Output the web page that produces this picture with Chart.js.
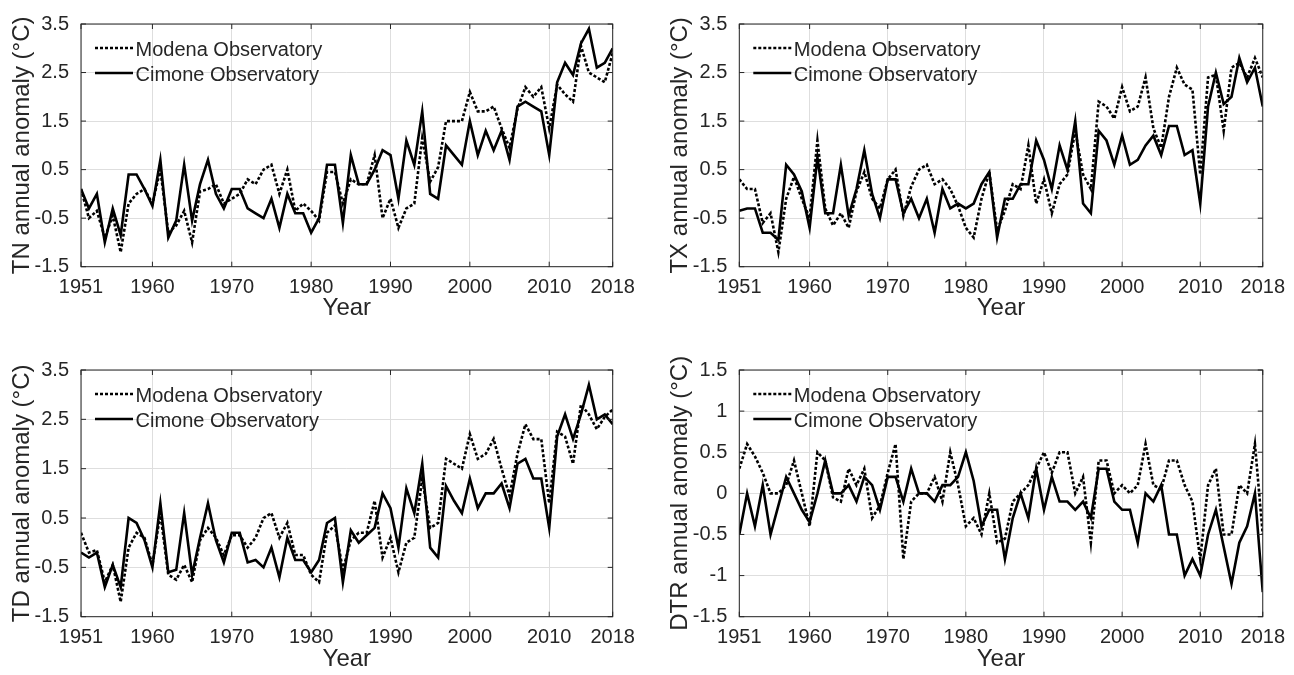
<!DOCTYPE html>
<html><head><meta charset="utf-8">
<script src="https://cdn.jsdelivr.net/npm/chart.js@4.4.1/dist/chart.umd.min.js"></script>
<style>
html,body{margin:0;padding:0;background:#fff;}
#wrap{position:relative;width:1294px;height:675px;overflow:hidden;background:#fff;}
canvas{position:absolute;}
</style></head><body>
<div id="wrap">
<canvas id="cTN" width="647" height="340" style="left:0;top:0"></canvas>
<canvas id="cTX" width="647" height="340" style="left:647px;top:0"></canvas>
<canvas id="cTD" width="647" height="335" style="left:0;top:340px"></canvas>
<canvas id="cDTR" width="647" height="335" style="left:647px;top:340px"></canvas>
</div>
<script>
// ---- data ----
const years = Array.from({length: 68}, (_, i) => 1951 + i);
const xTicks = [1951, 1960, 1970, 1980, 1990, 2000, 2010, 2018];
const yTicksT = [-1.5, -0.5, 0.5, 1.5, 2.5, 3.5];
const yTicksDTR = [-1.5, -1, -0.5, 0, 0.5, 1, 1.5];
const seriesNames = ['Modena Observatory', 'Cimone Observatory'];

const tnModena = [
  0.1,-0.5,-0.35,-0.9,-0.45,-1.2,-0.2,0.0,0.1,-0.2,
  0.5,-0.8,-0.65,-0.35,-1.0,0.05,0.1,0.2,-0.2,-0.1,
  0.0,0.3,0.2,0.5,0.6,0.0,0.5,-0.35,-0.2,-0.35,
  -0.55,0.45,0.45,-0.2,0.3,0.2,0.2,0.8,-0.5,-0.1,
  -0.7,-0.3,-0.2,1.15,0.25,0.55,1.5,1.5,1.5,2.1,
  1.7,1.7,1.8,1.35,0.95,1.75,2.2,2.0,2.2,1.35,
  2.25,2.05,1.9,3.05,2.5,2.4,2.3,2.9];
const tnCimone = [
  0.1,-0.3,0.0,-1.0,-0.3,-0.85,0.4,0.4,0.1,-0.25,
  0.7,-0.9,-0.55,0.6,-0.55,0.2,0.7,0.0,-0.3,0.1,
  0.1,-0.3,-0.4,-0.5,-0.1,-0.7,0.0,-0.4,-0.4,-0.8,
  -0.5,0.6,0.6,-0.6,0.8,0.2,0.2,0.5,0.9,0.8,
  -0.1,1.1,0.6,1.7,0.0,-0.1,1.0,0.8,0.6,1.5,
  0.8,1.3,0.9,1.3,0.7,1.8,1.9,1.8,1.7,0.8,
  2.3,2.7,2.45,3.1,3.4,2.6,2.7,3.0];
const txModena = [
  0.3,0.1,0.1,-0.6,-0.4,-1.2,-0.1,0.35,-0.1,-0.5,
  1.1,-0.3,-0.65,-0.4,-0.7,0.05,0.45,-0.1,-0.3,0.3,
  0.5,-0.45,0.15,0.5,0.6,0.2,0.3,0.1,-0.25,-0.7,
  -0.9,-0.1,0.45,-0.75,-0.35,0.2,0.1,1.0,-0.2,0.3,
  -0.4,0.2,0.4,1.3,0.4,0.1,1.9,1.8,1.55,2.2,
  1.7,1.8,2.4,1.35,0.95,2.0,2.6,2.25,2.15,0.4,
  2.4,2.45,1.3,2.6,2.7,2.4,2.8,2.4];
const txCimone = [
  -0.35,-0.3,-0.3,-0.8,-0.8,-0.95,0.6,0.4,0.05,-0.7,
  0.75,-0.4,-0.4,0.6,-0.45,0.1,0.9,0.0,-0.5,0.3,
  0.3,-0.4,-0.1,-0.5,-0.1,-0.8,0.1,-0.3,-0.2,-0.3,
  -0.2,0.2,0.45,-0.9,-0.1,-0.1,0.2,0.2,1.1,0.7,
  0.1,1.0,0.5,1.5,-0.2,-0.4,1.3,1.1,0.6,1.2,
  0.6,0.7,1.0,1.2,0.8,1.4,1.4,0.8,0.9,-0.2,
  1.8,2.5,1.85,2.0,2.8,2.3,2.6,1.8];
const tdModena = [
  0.2,-0.2,-0.15,-0.8,-0.45,-1.2,-0.1,0.2,0.1,-0.45,
  0.6,-0.65,-0.75,-0.45,-0.8,0.05,0.3,0.1,-0.25,0.15,
  0.15,-0.1,0.1,0.5,0.6,0.1,0.4,-0.25,-0.25,-0.65,
  -0.8,0.2,0.35,-0.55,0.05,0.2,0.2,0.85,-0.3,0.1,
  -0.6,0.0,0.1,1.3,0.3,0.4,1.7,1.6,1.5,2.2,
  1.7,1.8,2.1,1.5,0.95,1.8,2.4,2.1,2.1,0.8,
  2.25,2.15,1.6,2.8,2.6,2.3,2.55,2.7];
const tdCimone = [
  -0.2,-0.3,-0.2,-0.9,-0.45,-0.9,0.5,0.4,0.05,-0.5,
  0.8,-0.6,-0.55,0.6,-0.65,0.1,0.8,0.05,-0.4,0.2,
  0.2,-0.4,-0.35,-0.5,-0.1,-0.7,0.1,-0.35,-0.35,-0.6,
  -0.35,0.4,0.5,-0.8,0.25,0.0,0.15,0.3,1.0,0.7,
  -0.1,1.1,0.6,1.6,-0.1,-0.3,1.15,0.85,0.6,1.3,
  0.7,1.0,1.0,1.2,0.7,1.6,1.7,1.3,1.3,0.3,
  2.15,2.6,2.1,2.6,3.2,2.5,2.6,2.4];
const dtrModena = [
  0.3,0.6,0.45,0.25,0.0,0.0,0.1,0.4,0.0,-0.4,
  0.5,0.4,-0.05,-0.1,0.3,0.1,0.3,-0.3,-0.15,0.25,
  0.6,-0.8,-0.1,0.0,0.0,0.2,-0.1,0.5,0.1,-0.4,
  -0.3,-0.5,0.0,-0.6,-0.55,-0.1,0.0,0.1,0.3,0.5,
  0.25,0.5,0.5,0.0,0.2,-0.6,0.4,0.4,0.0,0.1,
  0.0,0.1,0.6,0.1,0.05,0.4,0.4,0.1,-0.1,-0.8,
  0.1,0.3,-0.5,-0.5,0.1,0.0,0.6,-0.5];
const dtrCimone = [
  -0.5,0.0,-0.4,0.1,-0.5,-0.15,0.2,0.0,-0.2,-0.35,
  0.0,0.4,0.0,0.0,0.1,-0.1,0.2,0.1,-0.2,0.2,
  0.2,-0.1,0.3,0.0,0.0,-0.1,0.1,0.1,0.2,0.5,
  0.15,-0.4,-0.2,-0.2,-0.8,-0.3,0.0,-0.3,0.3,-0.2,
  0.2,-0.1,-0.1,-0.2,-0.1,-0.3,0.3,0.3,-0.1,-0.2,
  -0.2,-0.6,0.0,-0.1,0.1,-0.5,-0.5,-1.0,-0.8,-1.0,
  -0.5,-0.2,-0.65,-1.1,-0.6,-0.4,0.0,-1.2];

// ---- styling / layout ----
const FONT = '"Liberation Sans", Arial, Helvetica, sans-serif';
const INK = '#262626';

const framePlugin = {
  id: 'frame',
  afterDatasetsDraw(chart) {
    const {ctx, chartArea: a, scales} = chart;
    ctx.save();
    ctx.strokeStyle = INK;
    ctx.lineWidth = 1;
    ctx.setLineDash([]);
    ctx.strokeRect(a.left, a.top, a.right - a.left, a.bottom - a.top);
    const tl = 5;
    ctx.beginPath();
    scales.x.ticks.forEach(t => {
      const px = scales.x.getPixelForValue(t.value);
      ctx.moveTo(px, a.bottom); ctx.lineTo(px, a.bottom - tl);
      ctx.moveTo(px, a.top); ctx.lineTo(px, a.top + tl);
    });
    scales.y.ticks.forEach(t => {
      const py = scales.y.getPixelForValue(t.value);
      ctx.moveTo(a.left, py); ctx.lineTo(a.left + tl, py);
      ctx.moveTo(a.right, py); ctx.lineTo(a.right - tl, py);
    });
    ctx.stroke();
    // legend
    ctx.font = '20px ' + FONT;
    ctx.textBaseline = 'middle';
    ctx.textAlign = 'left';
    chart.data.datasets.forEach((ds, i) => {
      const y = a.top + 26 + 25 * i;
      ctx.beginPath();
      ctx.lineWidth = ds.borderWidth;
      ctx.strokeStyle = ds.borderColor;
      ctx.setLineDash(ds.borderDash || []);
      ctx.moveTo(a.left + 14, y - 2);
      ctx.lineTo(a.left + 52, y - 2);
      ctx.stroke();
      ctx.setLineDash([]);
      ctx.fillStyle = INK;
      ctx.fillText(ds.label, a.left + 54.5, y);
    });
    ctx.restore();
  }
};

function makePanel(id, yLabel, modena, cimone, yTicks, yMin, yMax, geo) {
  const ctx = document.getElementById(id);
  new Chart(ctx, {
    type: 'line',
    data: {
      datasets: [
        { label: seriesNames[0], data: years.map((yr, i) => ({x: yr, y: modena[i]})),
          borderColor: '#000', borderWidth: 2.6, borderDash: [3, 2], pointRadius: 0, tension: 0, fill: false },
        { label: seriesNames[1], data: years.map((yr, i) => ({x: yr, y: cimone[i]})),
          borderColor: '#000', borderWidth: 2.6, pointRadius: 0, tension: 0, fill: false }
      ]
    },
    options: {
      responsive: false,
      animation: false,
      events: [],
      layout: { padding: { left: 0, top: geo.top, right: geo.right, bottom: 0 } },
      plugins: { legend: { display: false }, tooltip: { enabled: false } },
      scales: {
        x: {
          type: 'linear', min: 1951, max: 2018,
          afterBuildTicks: s => { s.ticks = xTicks.map(v => ({value: v})); },
          afterFit: s => { s.height = geo.xH; },
          grid: { color: '#dedede', lineWidth: 1, drawTicks: false },
          border: { display: false },
          ticks: { color: INK, font: { family: FONT, size: 20 }, padding: 9, maxRotation: 0, autoSkip: false,
                   callback: v => String(v) },
          title: { display: true, text: 'Year', color: INK, font: { family: FONT, size: 24 },
                   padding: { top: 0, bottom: geo.xTitlePad } }
        },
        y: {
          type: 'linear', min: yMin, max: yMax,
          afterBuildTicks: s => { s.ticks = yTicks.map(v => ({value: v})); },
          afterFit: s => { s.width = geo.yW; },
          grid: { color: '#dedede', lineWidth: 1, drawTicks: false },
          border: { display: false },
          ticks: { color: INK, font: { family: FONT, size: 20 }, padding: 12, autoSkip: false,
                   callback: v => String(v) },
          title: { display: true, text: yLabel, color: INK, font: { family: FONT, size: 24 },
                   padding: { top: geo.yTitlePad, bottom: 0 } }
        }
      }
    },
    plugins: [framePlugin]
  });
}

makePanel('cTN', 'TN annual anomaly (°C)', tnModena, tnCimone, yTicksT, -1.5, 3.5,
  { top: 20, right: 34.3, xH: 73.3, yW: 81, xTitlePad: 17, yTitlePad: 7.6 });
makePanel('cTX', 'TX annual anomaly (°C)', txModena, txCimone, yTicksT, -1.5, 3.5,
  { top: 20, right: 22.7, xH: 73.3, yW: 92.3, xTitlePad: 17, yTitlePad: 18.9 });
makePanel('cTD', 'TD annual anomaly (°C)', tdModena, tdCimone, yTicksT, -1.5, 3.5,
  { top: 30, right: 34.3, xH: 58.3, yW: 81, xTitlePad: 1.5, yTitlePad: 7.6 });
makePanel('cDTR', 'DTR annual anomaly (°C)', dtrModena, dtrCimone, yTicksDTR, -1.5, 1.5,
  { top: 30, right: 22.7, xH: 58.3, yW: 92.3, xTitlePad: 1.5, yTitlePad: 18.9 });
</script>
</body></html>
